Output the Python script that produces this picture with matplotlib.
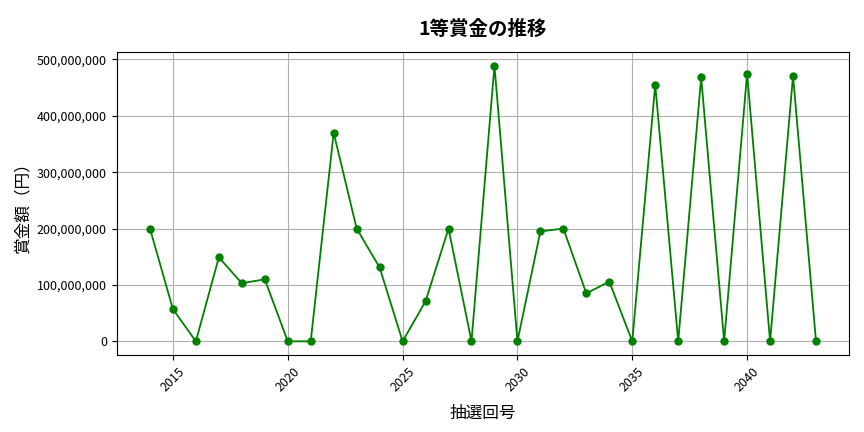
import matplotlib
matplotlib.use("Agg")
import matplotlib.pyplot as plt
from matplotlib.ticker import FuncFormatter

plt.rcParams['font.family'] = ['Noto Sans CJK JP', 'DejaVu Sans']

# 抽選回号と1等賞金（円）
draws = list(range(2014, 2044))
prizes = [
    200000000, 57000000, 0, 149000000, 103000000, 110000000, 0, 0,
    370000000, 200000000, 131000000, 0, 71000000, 200000000, 0, 489000000,
    0, 195000000, 200000000, 85000000, 106000000, 0, 455000000, 0,
    468000000, 0, 475000000, 0, 471000000, 0,
]

fig, ax = plt.subplots(figsize=(8.64, 4.32), dpi=100)
ax.plot(draws, prizes, marker='o', color='green', markersize=5, linewidth=1.3)

ax.set_title("1等賞金の推移", fontsize=14, fontweight='bold', pad=12)
ax.set_xlabel("抽選回号", fontsize=12, labelpad=8)
ax.set_ylabel("賞金額（円）", fontsize=12)
ax.yaxis.set_major_formatter(FuncFormatter(lambda v, p: f"{int(v):,}"))
ax.tick_params(axis='x', rotation=45, labelsize=9)
ax.tick_params(axis='y', labelsize=9)
ax.grid(True)

fig.subplots_adjust(left=0.135, right=0.983, top=0.88, bottom=0.178)
fig.savefig("out.png")
